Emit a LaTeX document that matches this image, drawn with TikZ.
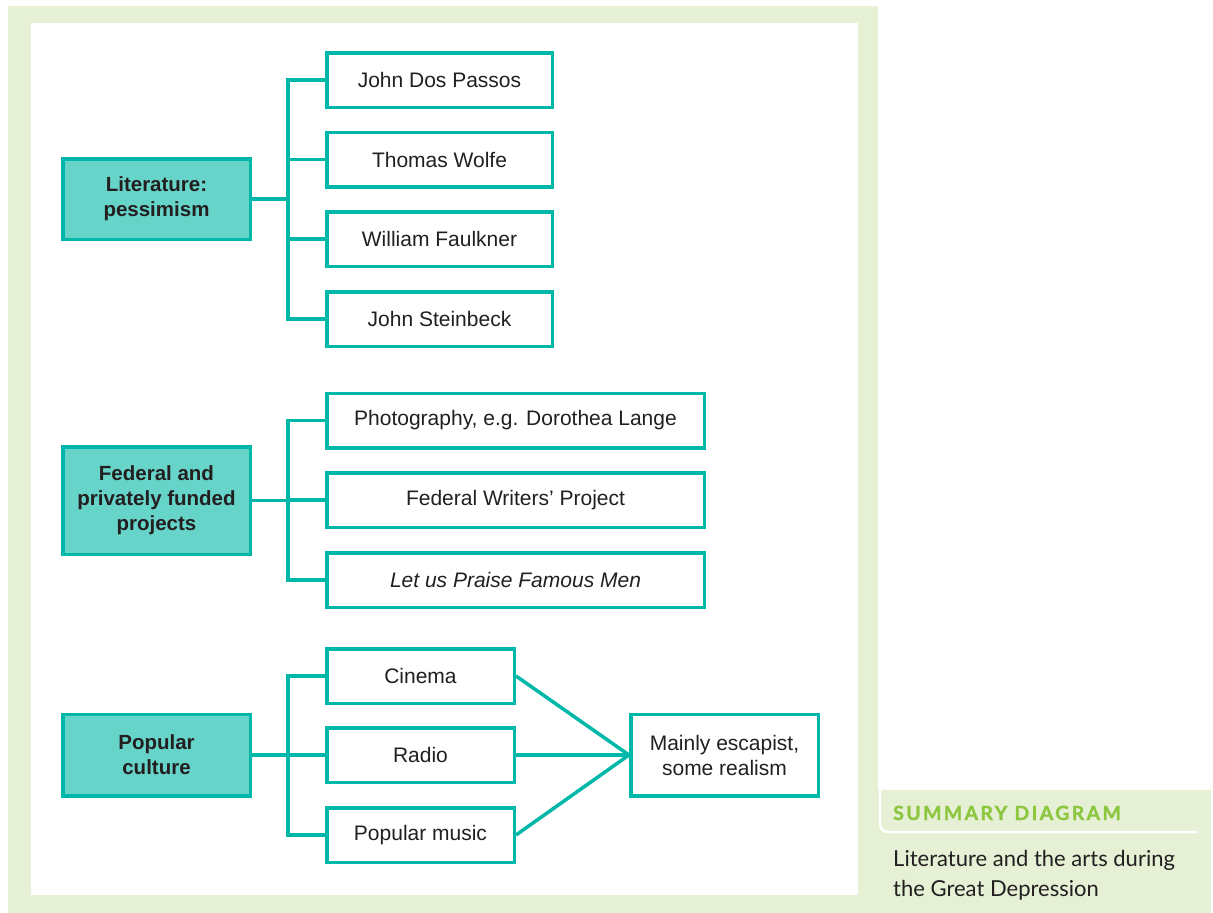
\documentclass[tikz,border=0pt]{standalone}
\usepackage{fontspec}
\setmainfont{Liberation Sans}
\newfontfamily\gillish{Lato}
\newfontfamily\gillishhead[LetterSpace=12,FakeBold=1.2]{Lato}
\definecolor{teal}{HTML}{00B8A9}
\definecolor{tealfill}{HTML}{66D4C9}
\definecolor{framegreen}{HTML}{E5F0D5}
\definecolor{headgreen}{HTML}{8DC63F}
\definecolor{ink}{HTML}{231F20}
\begin{document}
\begin{tikzpicture}[x=1pt,y=-1pt,
  every node/.style={inner sep=0pt, text=ink},
  leaf/.style={draw=teal, fill=white, line width=3.5pt, font=\fontsize{21}{25}\selectfont,
    minimum height=54.5pt, align=center},
  topic/.style={draw=teal, fill=tealfill, line width=3.5pt,
    font=\fontsize{20.5}{25}\selectfont\bfseries, minimum width=187.5pt, align=center},
  link/.style={draw=teal, line width=3.5pt, line join=miter}]
\useasboundingbox (0,0) rectangle (1213,913);
% page frame and summary panel
\fill[framegreen] (8,6) rectangle (878,913);
\fill[white] (31,23) rectangle (858,895);
\fill[framegreen] (878,790) rectangle (1211,913);
\draw[white, line width=2.5pt, rounded corners=8pt] (880,790) -- (880,832) -- (1197,832);
\node[anchor=base west, font=\gillishhead\bfseries\fontsize{19.5}{22}\selectfont, text=headgreen]
  (sumhead) at (893,820) {SUMMARY DIAGRAM};
\node[anchor=base west, align=left, font=\gillish\fontsize{22}{30}\selectfont, text=ink]
  (sumtext) at (893,896) {Literature and the arts during\\the Great Depression};

% literature branch
\node[topic, minimum height=80.5pt] (lit) at (156.5,199) {Literature:\\pessimism};
\node[leaf, minimum width=225.5pt] (jdp) at (439.5,80) {John Dos Passos};
\node[leaf, minimum width=225.5pt] (tw) at (439.5,159.5) {Thomas Wolfe};
\node[leaf, minimum width=225.5pt] (wf) at (439.5,239) {William Faulkner};
\node[leaf, minimum width=225.5pt] (js) at (439.5,319) {John Steinbeck};
\draw[link] (jdp.west) -- ++(-37,0) |- (js.west);
\draw[link] (tw.west) -- ++(-37,0);
\draw[link] (wf.west) -- ++(-37,0);
\draw[link] (lit.east) -- ++(36,0);

% projects branch
\node[topic, minimum height=107.5pt] (fed) at (156.5,500.5) {Federal and\\privately funded\\projects};
\node[leaf, minimum width=377.5pt] (photo) at (515.5,420.5) {Photography, e.g. Dorothea Lange};
\node[leaf, minimum width=377.5pt] (fwp) at (515.5,500) {Federal Writers’ Project};
\node[leaf, minimum width=377.5pt] (lup) at (515.5,580) {\itshape Let us Praise Famous Men};
\draw[link] (photo.west) -- ++(-37,0) |- (lup.west);
\draw[link] (fwp.west) -- ++(-37,0);
\draw[link] (fed.east) -- ++(36,0);

% popular culture branch
\node[topic, minimum height=81.5pt] (pop) at (156.5,755) {Popular\\culture};
\node[leaf, minimum width=187.5pt] (cin) at (420.5,676) {Cinema};
\node[leaf, minimum width=187.5pt] (rad) at (420.5,755) {Radio};
\node[leaf, minimum width=187.5pt] (pm) at (420.5,835) {Popular music};
\node[leaf, minimum width=187.5pt, minimum height=81.5pt] (esc) at (724.5,755) {Mainly escapist,\\some realism};
\draw[link] (cin.west) -- ++(-37,0) |- (pm.west);
\draw[link] (rad.west) -- ++(-37,0);
\draw[link] (pop.east) -- ++(36,0);
\draw[link] (cin.east) -- (esc.west);
\draw[link] (rad.east) -- (esc.west);
\draw[link] (pm.east) -- (esc.west);
\end{tikzpicture}
\end{document}
